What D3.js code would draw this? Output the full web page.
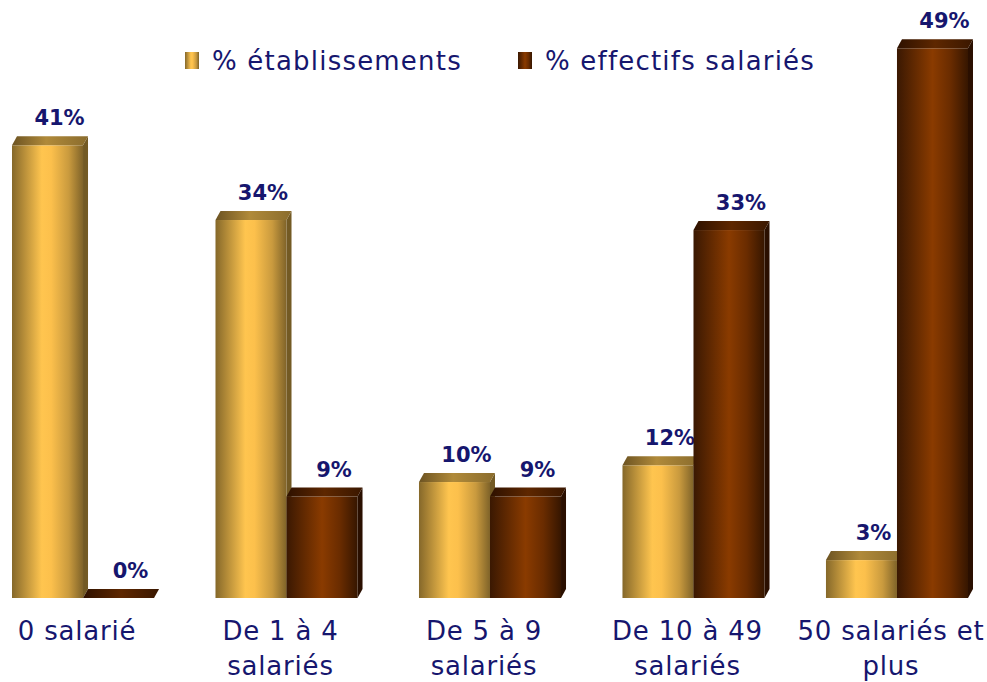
<!DOCTYPE html>
<html>
<head>
<meta charset="utf-8">
<script src="https://cdnjs.cloudflare.com/ajax/libs/d3/7.8.5/d3.min.js"></script>
<style>
  body { margin: 0; background: #fff; }
  text { font-family: "DejaVu Sans", sans-serif; fill: #16166e; }
</style>
</head>
<body>
<div id="chart"></div>
<script>
var categories = ["0 salarié", "De 1 à 4 salariés", "De 5 à 9 salariés", "De 10 à 49 salariés", "50 salariés et plus"];
var categoryLines = [["0 salarié"], ["De 1 à 4", "salariés"], ["De 5 à 9", "salariés"], ["De 10 à 49", "salariés"], ["50 salariés et", "plus"]];
var seriesNames = ["% établissements", "% effectifs salariés"];
var etablissements = [40.6, 33.9, 10.4, 11.9, 3.4];
var effectifs = [0.0, 9.1, 9.1, 33.0, 49.3];

var width = 987;
var height = 682;
var dx = 5, dy = 9;

var svg = d3.select("#chart").append("svg")
  .attr("width", width)
  .attr("height", height);

var defs = svg.append("defs");

function grad(id, stops) {
  var g = defs.append("linearGradient").attr("id", id)
    .attr("x1", "0%").attr("x2", "100%").attr("y1", "0%").attr("y2", "0%");
  stops.forEach(function (s) {
    g.append("stop").attr("offset", s[0]).attr("stop-color", s[1]);
  });
}
grad("goldFront", [[0, "#85682a"], [0.42, "#ffc54f"], [0.55, "#fcc04c"], [0.8, "#c99a3e"], [1, "#7f6329"]]);
grad("goldTop", [[0, "#6c5322"], [0.45, "#b08a3a"], [1, "#8a6c2d"]]);
grad("brownFront", [[0, "#3a1802"], [0.5, "#8a3b00"], [0.75, "#6a2c00"], [1, "#361600"]]);
grad("brownTop", [[0, "#2e1100"], [0.5, "#5e2700"], [1, "#3a1700"]]);

var styles = [
  { front: "url(#goldFront)", top: "url(#goldTop)", side: "#735a24" },
  { front: "url(#brownFront)", top: "url(#brownTop)", side: "#2a0f00" }
];

var x = d3.scaleBand()
  .domain(categories)
  .range([12, 968])
  .paddingInner(0.302)
  .paddingOuter(0);

var xs = d3.scaleBand()
  .domain(seriesNames)
  .range([0, x.bandwidth()]);

var y = d3.scaleLinear()
  .domain([0, 50])
  .range([598, 598 - 50 * 11.15]);

var rows = categories.map(function (c, i) {
  return [
    { cat: c, s: 0, name: seriesNames[0], v: etablissements[i] },
    { cat: c, s: 1, name: seriesNames[1], v: effectifs[i] }
  ];
});

var groups = svg.selectAll(".grp").data(rows).enter().append("g")
  .attr("class", "grp")
  .attr("transform", function (d) { return "translate(" + x(d[0].cat) + ",0)"; });

var bars = groups.selectAll(".bar").data(function (d) { return d; }).enter().append("g")
  .attr("class", "bar");

bars.each(function (d) {
  var g = d3.select(this);
  var x0 = xs(d.name);
  var w = xs.bandwidth();
  var yt = y(d.v);
  var yb = y(0);
  var st = styles[d.s];
  // side face
  g.append("polygon")
    .attr("points", [[x0 + w, yt], [x0 + w + dx, yt - dy], [x0 + w + dx, yb - dy], [x0 + w, yb]].join(" "))
    .attr("fill", st.side);
  // front face
  g.append("rect")
    .attr("x", x0).attr("y", yt)
    .attr("width", w).attr("height", yb - yt)
    .attr("fill", st.front);
  // top face
  g.append("polygon")
    .attr("points", [[x0, yt], [x0 + dx, yt - dy], [x0 + w + dx, yt - dy], [x0 + w, yt]].join(" "))
    .attr("fill", st.top);
  // value label
  g.append("text")
    .attr("x", x0 + w / 2 + 12)
    .attr("y", yt - 20)
    .attr("text-anchor", "middle")
    .style("font-weight", "bold")
    .style("font-size", "21px")
    .text(Math.round(d.v) + "%");
});

// category labels
categories.forEach(function (c, i) {
  var cx = x(c) + x.bandwidth() / 2 - 6;
  var t = svg.append("text")
    .attr("y", 640)
    .attr("text-anchor", "middle")
    .style("font-size", "26px")
    .style("letter-spacing", "0.8px");
  categoryLines[i].forEach(function (line, j) {
    t.append("tspan")
      .attr("x", cx)
      .attr("dy", j === 0 ? 0 : 35)
      .text(line);
  });
});

// legend
var legendX = [185, 518];
seriesNames.forEach(function (n, i) {
  svg.append("rect")
    .attr("x", legendX[i]).attr("y", 52)
    .attr("width", 14).attr("height", 17)
    .attr("fill", i === 0 ? "url(#goldFront)" : "url(#brownFront)");
  svg.append("text")
    .attr("x", legendX[i] + 27)
    .attr("y", 70)
    .style("font-size", "26px")
    .style("letter-spacing", "1.2px")
    .text(n);
});
</script>
</body>
</html>
